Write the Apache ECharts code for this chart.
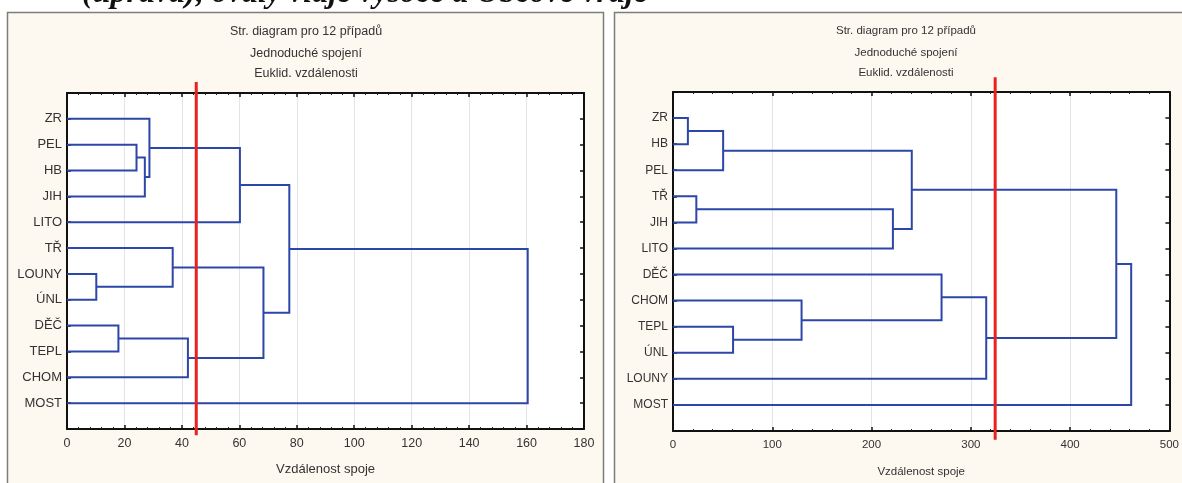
<!DOCTYPE html>
<html>
<head>
<meta charset="utf-8">
<script src="https://cdn.jsdelivr.net/npm/echarts@6/dist/echarts.min.js"></script>
<style>
html,body{margin:0;padding:0;background:#fff;}
#chart{width:1182px;height:483px;}
</style>
</head>
<body>
<div id="chart"></div>
<script>
// ---------- data ----------
const titleLines = ['Str. diagram pro 12 případů', 'Jednoduché spojení', 'Euklid. vzdálenosti'];
const axisName = 'Vzdálenost spoje';
const headerText = '(úprava), ovály vlajé vysoce a Obcové vrajé';

// left dendrogram (leaf order top -> bottom)
const leftLeaves = ['ZR', 'PEL', 'HB', 'JIH', 'LITO', 'TŘ', 'LOUNY', 'ÚNL', 'DĚČ', 'TEPL', 'CHOM', 'MOST'];
// merges: [member A, member B, linkage distance]; number = index of earlier merge
const leftMerges = [
  ['PEL', 'HB', 24.2],
  [0, 'JIH', 27.1],
  ['ZR', 1, 28.7],
  [2, 'LITO', 60.2],
  ['LOUNY', 'ÚNL', 10.2],
  ['TŘ', 4, 36.8],
  ['DĚČ', 'TEPL', 17.9],
  [6, 'CHOM', 42.1],
  [5, 7, 68.4],
  [3, 8, 77.4],
  [9, 'MOST', 160.4]
];
const leftCut = 45;
const leftXMax = 180;
const leftXStep = 20;

// right dendrogram
const rightLeaves = ['ZR', 'HB', 'PEL', 'TŘ', 'JIH', 'LITO', 'DĚČ', 'CHOM', 'TEPL', 'ÚNL', 'LOUNY', 'MOST'];
const rightMerges = [
  ['ZR', 'HB', 15],
  [0, 'PEL', 50.5],
  ['TŘ', 'JIH', 23.5],
  [2, 'LITO', 221.5],
  [1, 3, 240.5],
  ['TEPL', 'ÚNL', 60.5],
  ['CHOM', 5, 129.5],
  ['DĚČ', 6, 270.5],
  [7, 'LOUNY', 315.5],
  [4, 8, 446.5],
  [9, 'MOST', 461.5]
];
const rightCut = 324.5;
const rightXMax = 500;
const rightXStep = 100;

// ---------- layout helpers ----------
function dendroPaths(leaves, merges) {
  const leafPos = {};
  leaves.forEach((n, i) => { leafPos[n] = { y: i + 1, h: 0 }; });
  const nodes = [];
  const get = r => (typeof r === 'number' ? nodes[r] : leafPos[r]);
  const paths = [];
  merges.forEach(([a, b, h]) => {
    const A = get(a), B = get(b);
    paths.push({ coords: [[A.h, A.y], [h, A.y], [h, B.y], [B.h, B.y]] });
    nodes.push({ y: (A.y + B.y) / 2, h: h });
  });
  return paths;
}

const LINE_BLUE = '#2d47a8';
const FONT = '"Liberation Sans", Arial, sans-serif';

function xAxes(grid, max, step, labelSize, nameSize, nameGap) {
  const common = {
    gridIndex: grid, type: 'value', min: 0, max: max, interval: step,
    axisLine: { show: true, onZero: false, lineStyle: { color: '#111', width: 2 } },
    axisTick: { show: true, inside: true, length: 4, lineStyle: { color: '#111', width: 1.5 } },
    minorTick: { show: true, splitNumber: 5, length: 2, lineStyle: { color: '#222', width: 1 } }
  };
  return [
    Object.assign({}, common, {
      position: 'bottom',
      axisLabel: { color: '#333', fontSize: labelSize, fontFamily: FONT, margin: 8 },
      splitLine: { show: true, lineStyle: { color: '#e4e4e4', width: 1 } },
      name: axisName, nameLocation: 'middle', nameGap: nameGap,
      nameTextStyle: { color: '#333', fontSize: nameSize, fontFamily: FONT }
    }),
    Object.assign({}, common, {
      position: 'top',
      axisLabel: { show: false },
      splitLine: { show: false }
    })
  ];
}

function yAxes(grid, leaves, labelSize) {
  const common = {
    gridIndex: grid, type: 'value', min: 0, max: leaves.length + 1, interval: 1, inverse: true,
    axisLine: { show: true, onZero: false, lineStyle: { color: '#111', width: 2 } },
    axisTick: { show: true, inside: true, length: 4, lineStyle: { color: '#111', width: 1.5 } },
    splitLine: { show: false }
  };
  return [
    Object.assign({}, common, {
      position: 'left',
      axisLabel: {
        color: '#333', fontSize: labelSize, fontFamily: FONT, margin: 5,
        formatter: v => leaves[v - 1] || ''
      }
    }),
    Object.assign({}, common, { position: 'right', axisLabel: { show: false } })
  ];
}

function titleGraphics(cx, ys, size) {
  return titleLines.map((t, i) => ({
    type: 'text', x: cx, y: ys[i], z: 5,
    style: { text: t, fill: '#333', font: size + 'px ' + FONT, textAlign: 'center', textVerticalAlign: 'middle' }
  }));
}

const chart = echarts.init(document.getElementById('chart'), null, { renderer: 'canvas' });

const option = {
  animation: false,
  backgroundColor: '#ffffff',
  grid: [
    { left: 67, top: 93, width: 517, height: 336, show: true, backgroundColor: '#ffffff', borderWidth: 0 },
    { left: 673, top: 92, width: 505, height: 344, show: true, backgroundColor: '#ffffff', borderWidth: 0 }
  ],
  xAxis: [].concat(
    xAxes(0, leftXMax, leftXStep, 12.5, 13, 34),
    xAxes(1, rightXMax, rightXStep, 11.5, 11.5, 35)
  ),
  yAxis: [].concat(
    yAxes(0, leftLeaves, 13),
    yAxes(1, rightLeaves, 12)
  ),
  graphic: [
    { type: 'rect', z: -100, shape: { x: 7.5, y: 12.5, width: 596, height: 500 },
      style: { fill: '#fdf9f1', stroke: '#7d7d7d', lineWidth: 1.5 } },
    { type: 'rect', z: -100, shape: { x: 614.5, y: 12.5, width: 590, height: 500 },
      style: { fill: '#fdf9f1', stroke: '#7d7d7d', lineWidth: 1.5 } },
    { type: 'text', x: 82, y: -6, z: 5,
      style: { text: headerText, fill: '#111', font: 'italic bold 32px "Liberation Serif", serif', textAlign: 'left', textVerticalAlign: 'middle' } }
  ].concat(titleGraphics(306, [32, 54, 74], 12.5), titleGraphics(906, [31, 53, 73], 11.5)),
  series: [
    {
      type: 'lines', coordinateSystem: 'cartesian2d', xAxisIndex: 0, yAxisIndex: 0,
      polyline: true, silent: true, z: 3,
      lineStyle: { color: LINE_BLUE, width: 2, opacity: 1 },
      data: dendroPaths(leftLeaves, leftMerges)
    },
    {
      type: 'lines', coordinateSystem: 'cartesian2d', xAxisIndex: 2, yAxisIndex: 2,
      polyline: true, silent: true, z: 3,
      lineStyle: { color: LINE_BLUE, width: 2, opacity: 1 },
      data: dendroPaths(rightLeaves, rightMerges)
    },
    {
      type: 'lines', coordinateSystem: 'cartesian2d', xAxisIndex: 0, yAxisIndex: 0,
      polyline: true, silent: true, clip: false, z: 10,
      lineStyle: { color: '#e8221e', width: 3, opacity: 1 },
      data: [{ coords: [[leftCut, -0.43], [leftCut, 13.24]] }]
    },
    {
      type: 'lines', coordinateSystem: 'cartesian2d', xAxisIndex: 2, yAxisIndex: 2,
      polyline: true, silent: true, clip: false, z: 10,
      lineStyle: { color: '#e8221e', width: 3, opacity: 1 },
      data: [{ coords: [[rightCut, -0.57], [rightCut, 13.34]] }]
    }
  ]
};
chart.setOption(option);
</script>
</body>
</html>
